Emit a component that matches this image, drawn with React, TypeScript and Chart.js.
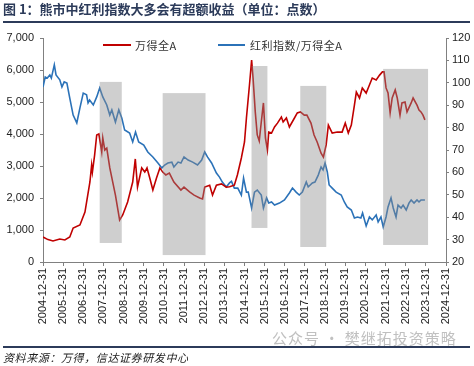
import React, { useEffect, useRef } from "react";
import { Chart, registerables } from "chart.js";

Chart.register(...registerables);

const TITLE = "图 1：熊市中红利指数大多会有超额收益（单位：点数）";
const SOURCE = "资料来源：万得，信达证券研发中心";
const WATERMARK = "公众号 · 樊继拓投资策略";
const LEGEND_A = "万得全A";
const LEGEND_B = "红利指数/万得全A";

const redDates = [
  "2005-01-01","2005-04-01","2005-07-01","2005-11-01","2006-02-01","2006-05-01","2006-07-01","2006-11-01",
  "2007-01-31","2007-05-01","2007-06-01","2007-06-15","2007-07-25","2007-09-01","2007-10-10","2007-12-01",
  "2007-12-20","2008-01-25","2008-03-01","2008-04-25","2008-06-20","2008-08-05","2008-10-20","2008-12-15",
  "2009-03-15","2009-06-15","2009-08-01","2009-09-10","2009-11-25","2010-01-20","2010-03-01","2010-04-20",
  "2010-06-15","2010-08-20","2010-10-20","2010-12-10","2011-02-05","2011-04-10","2011-07-01","2011-11-05",
  "2011-12-31","2012-04-10","2012-07-01","2012-10-10","2012-12-01","2013-01-10","2013-04-10","2013-06-01",
  "2013-08-10","2013-11-10","2014-02-05","2014-04-05","2014-07-01","2014-08-25","2014-11-05","2015-01-01",
  "2015-02-05","2015-04-01","2015-05-10","2015-06-05","2015-07-15","2015-08-20","2015-09-25","2015-11-01",
  "2015-12-10","2016-01-15","2016-02-20","2016-03-15","2016-05-05","2016-06-28","2016-08-20","2016-10-30",
  "2016-12-01","2017-01-30","2017-03-25","2017-06-25","2017-08-15","2017-10-10","2017-12-20","2018-02-05",
  "2018-04-20","2018-06-15","2018-08-10","2018-10-20","2018-12-01","2019-01-20","2019-03-01","2019-05-10",
  "2019-08-10","2019-11-05","2020-01-01","2020-02-25","2020-04-20","2020-06-15","2020-07-20","2020-09-15",
  "2020-11-05","2021-01-15","2021-03-15","2021-05-05","2021-07-15","2021-09-15","2021-11-05","2021-12-05",
  "2022-01-10","2022-02-15","2022-03-25","2022-05-01","2022-06-25","2022-08-01","2022-09-20","2022-10-25",
  "2022-12-20","2023-01-25","2023-04-10","2023-05-15","2023-07-25","2023-08-30","2023-10-05","2023-11-10",
  "2023-12-15",
];
const redValues = [
  781, 700, 656, 719, 690, 781, 1060, 1156,
  1560, 2500, 3030, 2810, 3340, 3970, 4000, 3440,
  3875, 3500, 3560, 2940, 2470, 2090, 1310, 1470,
  1875, 2500, 3220, 2340, 2940, 2810, 2940, 2625,
  2250, 2625, 2940, 2810, 2720, 2780, 2500, 2250,
  2340, 2190, 2090, 2000, 1970, 2340, 2400, 2090,
  2400, 2440, 2340, 2350, 2400, 2720, 3250, 3750,
  4500, 5530, 6310, 5750, 4690, 3970, 3780, 4375,
  4970, 3875, 3500, 4060, 4030, 4220, 4340, 4530,
  4375, 4500, 4220, 4500, 4660, 4690, 4590, 4590,
  4340, 3970, 3750, 3400, 3280, 3660, 4280, 4030,
  4060, 4060, 4340, 4030, 4280, 4900, 5310, 5125,
  5440, 5280, 5530, 5750, 5690, 5840, 5940, 5940,
  5440, 5280, 4660, 5125, 5375, 5125, 4590, 4970,
  5000, 4690, 4970, 5125, 4900, 4750, 4690, 4590,
  4440,
];

const blueDates = [
  "2005-01-01","2005-02-10","2005-03-20","2005-05-05","2005-06-01","2005-07-25","2005-08-25","2005-11-01",
  "2005-12-10","2006-01-20","2006-03-10","2006-05-01","2006-07-01","2006-09-05","2006-11-01","2006-12-31",
  "2007-03-01","2007-03-28","2007-04-25","2007-07-01","2007-09-01","2007-10-25","2007-12-20","2008-03-01",
  "2008-04-25","2008-06-01","2008-08-05","2008-10-05","2008-11-28","2009-01-20","2009-04-20","2009-06-15",
  "2009-08-05","2009-10-01","2010-01-01","2010-03-15","2010-06-15","2010-09-15","2010-11-25","2011-01-15",
  "2011-03-15","2011-05-25","2011-07-01","2011-09-15","2011-11-05","2011-12-31","2012-03-15","2012-06-05",
  "2012-09-01","2012-11-15","2013-01-10","2013-03-01","2013-05-15","2013-08-10","2013-10-05","2013-11-25",
  "2014-02-05","2014-04-05","2014-05-10","2014-07-01","2014-09-01","2014-11-05","2014-12-15","2015-02-05",
  "2015-03-10","2015-05-10","2015-07-01","2015-08-20","2015-11-01","2015-12-10","2016-02-05","2016-03-15",
  "2016-05-05","2016-06-28","2016-09-25","2016-12-25","2017-03-25","2017-05-20","2017-07-25","2017-09-20",
  "2017-11-15","2018-01-25","2018-03-01","2018-05-15","2018-07-01","2018-08-30","2018-10-20","2018-11-25",
  "2018-12-31","2019-02-10","2019-03-15","2019-05-10","2019-07-20","2019-10-20","2019-12-15","2020-02-05",
  "2020-04-20","2020-06-15","2020-08-10","2020-10-10","2020-11-10","2021-01-15","2021-03-15","2021-05-05",
  "2021-07-15","2021-08-20","2021-10-10","2021-11-20","2022-01-10","2022-02-15","2022-04-10","2022-05-20",
  "2022-07-10","2022-08-15","2022-10-10","2022-11-15","2023-01-10","2023-03-01","2023-04-10","2023-06-01",
  "2023-07-25","2023-08-30","2023-10-05","2023-12-15",
];
const blueValues = [
  98.1, 102.6, 102.1, 103.5, 102.1, 108, 103.5, 101.3,
  98.1, 100.4, 99.9, 93.2, 85.6, 82.1, 88.8, 95.4,
  94.6, 91, 92.3, 90.1, 93.7, 97.7, 93.7, 90.1,
  85.6, 87.9, 82.5, 87.9, 84.3, 78.9, 77.6, 73.6,
  78, 73.6, 72.2, 69.1, 66.9, 64.2, 62, 63.3,
  64.2, 64.6, 62.4, 64.6, 64.2, 66.9, 65.5, 64.6,
  63.3, 65.5, 69.1, 66.9, 64.2, 59.7, 57.9, 55.7,
  53.5, 55.3, 56, 53, 53, 49.9, 57.5, 51.2,
  51.2, 44.1, 51.2, 52.1, 49.9, 44.1, 48.6, 46.3,
  46.8, 45.4, 46.3, 47.7, 50.8, 53, 51.2, 49.9,
  51.2, 55.7, 53.5, 55.3, 55.7, 58.8, 62.4, 61.1,
  64.2, 60.2, 54.4, 53, 51.2, 49.9, 46.8, 44.6,
  43.2, 39.6, 40.1, 39.6, 41.9, 36.1, 40.1, 38.8,
  41, 37.9, 40.1, 35.6, 40.1, 44.6, 48.6, 44.1,
  40.1, 45.4, 44.1, 45.4, 43.2, 46.3, 47.7, 46.3,
  47.7, 46.8, 47.7, 47.7,
];

// shaded periods (values on the right axis)
const shadeStarts = ["2007-10-25", "2010-12-10", "2015-05-08", "2017-10-08", "2021-11-18"];
const shadeEnds = ["2008-11-28", "2013-01-25", "2016-02-20", "2019-01-22", "2024-02-10"];
const shadeTops = [100.4, 95.4, 107.5, 98.6, 106.2];
const shadeBottoms = [28.5, 23.1, 35.2, 26.7, 27.6];

const RED = "#c00000";
const BLUE = "#2b72b8";
const NAVY = "#2c3b5a";

function toYear(d: string): number {
  const [y, m, day] = d.split("-").map(Number);
  return y + (Date.UTC(y, m - 1, day) - Date.UTC(y, 0, 1)) / (365 * 864e5);
}

const shadePlugin = {
  id: "shade",
  afterDatasetsDraw(chart: any) {
    const { ctx, scales } = chart;
    const xs = scales.x;
    const ys = scales.y1;
    ctx.save();
    ctx.fillStyle = "rgba(140,140,140,0.42)";
    for (let i = 0; i < shadeStarts.length; i++) {
      const x0 = xs.getPixelForValue(toYear(shadeStarts[i]));
      const x1 = xs.getPixelForValue(toYear(shadeEnds[i]));
      const y0 = ys.getPixelForValue(shadeTops[i]);
      const y1 = ys.getPixelForValue(shadeBottoms[i]);
      ctx.fillRect(x0, y0, x1 - x0, y1 - y0);
    }
    ctx.restore();
  },
};

export default function App() {
  const ref = useRef<HTMLCanvasElement | null>(null);
  useEffect(() => {
    if (!ref.current) return;
    const tickFont = { family: "Arial, 'Liberation Sans'", size: 11 };
    const chart = new Chart(ref.current, {
      type: "line",
      data: {
        datasets: [
          {
            label: LEGEND_A,
            data: redDates.map((d, i) => ({ x: toYear(d), y: redValues[i] })),
            borderColor: RED,
            borderWidth: 1.6,
            pointRadius: 0,
            yAxisID: "y",
            tension: 0,
          },
          {
            label: LEGEND_B,
            data: blueDates.map((d, i) => ({ x: toYear(d), y: blueValues[i] })),
            borderColor: BLUE,
            borderWidth: 1.6,
            pointRadius: 0,
            yAxisID: "y1",
            tension: 0,
          },
        ],
      },
      options: {
        responsive: false,
        animation: false,
        devicePixelRatio: 1,
        layout: { padding: { top: 38, left: 0, right: 0, bottom: 0 } },
        plugins: { legend: { display: false }, tooltip: { enabled: false } },
        scales: {
          x: {
            type: "linear",
            min: 2005,
            max: 2025,
            afterFit: (s: any) => { s.height = 104; },
            ticks: {
              stepSize: 1,
              autoSkip: false,
              maxRotation: 90,
              minRotation: 90,
              padding: 2,
              color: "#222",
              font: tickFont,
              callback: (v: any) => `${Math.round(Number(v)) - 1}-12-31`,
            },
            grid: { drawOnChartArea: false, tickLength: 4, color: "#808080" },
            border: { color: "#808080" },
          },
          y: {
            position: "left",
            min: 0,
            max: 7000,
            afterFit: (s: any) => { s.width = 43; },
            ticks: { stepSize: 1000, padding: 6, color: "#222", font: tickFont },
            grid: { drawOnChartArea: false, tickLength: 3, color: "#808080" },
            border: { color: "#808080" },
          },
          y1: {
            position: "right",
            min: 20,
            max: 120,
            afterFit: (s: any) => { s.width = 28; },
            ticks: { stepSize: 10, padding: 3, color: "#222", font: tickFont },
            grid: { drawOnChartArea: false, tickLength: 3, color: "#808080" },
            border: { color: "#808080" },
          },
        },
      },
      plugins: [shadePlugin],
    } as any);
    return () => chart.destroy();
  }, []);

  const cjk = "'Noto Sans CJK SC', 'Noto Sans', sans-serif";
  return (
    <div style={{ position: "fixed", left: 0, top: 0, width: 474, height: 366, background: "#fff", overflow: "hidden" }}>
      <canvas ref={ref} width={474} height={366} style={{ position: "absolute", left: 0, top: 0, width: 474, height: 366 }} />
      <div style={{ position: "absolute", left: 3, top: 1, fontFamily: cjk, fontSize: 13, fontWeight: 700, color: NAVY, lineHeight: "16px", whiteSpace: "nowrap" }}>
        {TITLE}
      </div>
      <div style={{ position: "absolute", left: 3, top: 21, width: 467, height: 2, background: NAVY }} />
      <div style={{ position: "absolute", left: 103, top: 44, width: 28, height: 2, background: RED }} />
      <div style={{ position: "absolute", left: 135, top: 37, fontFamily: cjk, fontSize: 11, color: "#333", lineHeight: "16px", whiteSpace: "nowrap", letterSpacing: 0.5 }}>
        {LEGEND_A}
      </div>
      <div style={{ position: "absolute", left: 218, top: 44, width: 27, height: 2, background: BLUE }} />
      <div style={{ position: "absolute", left: 250, top: 37, fontFamily: cjk, fontSize: 11, color: "#333", lineHeight: "16px", whiteSpace: "nowrap", letterSpacing: 0.5 }}>
        {LEGEND_B}
      </div>
      <div style={{ position: "absolute", left: 272, top: 328, fontFamily: cjk, fontSize: 15, color: "#c0c0c0", lineHeight: "20px", whiteSpace: "nowrap", letterSpacing: 1 }}>
        {WATERMARK}
      </div>
      <div style={{ position: "absolute", left: 3, top: 346, width: 467, height: 1.5, background: NAVY }} />
      <div style={{ position: "absolute", left: 3, top: 349, fontFamily: cjk, fontSize: 11, fontStyle: "italic", color: "#222", lineHeight: "16px", whiteSpace: "nowrap", letterSpacing: 0.6 }}>
        {SOURCE}
      </div>
    </div>
  );
}
